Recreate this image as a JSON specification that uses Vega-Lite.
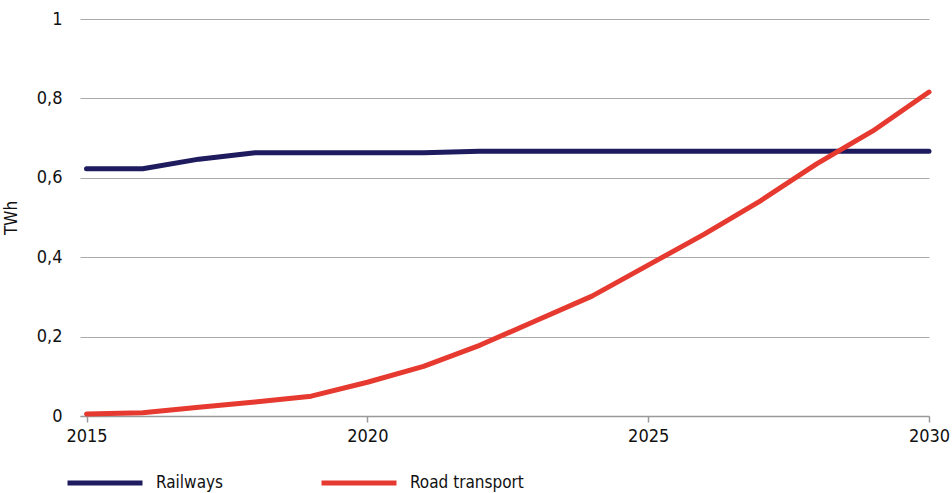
{
  "$schema": "https://vega.github.io/schema/vega-lite/v6.json",
  "width": 849,
  "height": 397,
  "autosize": "none",
  "padding": {"left": 80, "top": 19, "right": 23, "bottom": 77},
  "background": "white",
  "config": {
    "view": {"stroke": null},
    "font": "DejaVu Sans Condensed",
    "axis": {"labelFont": "DejaVu Sans Condensed", "titleFont": "DejaVu Sans Condensed", "labelColor": "#111", "titleColor": "#111"},
    "legend": {"labelFont": "DejaVu Sans Condensed"}
  },
  "data": {
    "values": [
      {"year": 2015, "series": "Railways", "v": 0.623},
      {"year": 2016, "series": "Railways", "v": 0.623},
      {"year": 2017, "series": "Railways", "v": 0.647},
      {"year": 2018, "series": "Railways", "v": 0.663},
      {"year": 2019, "series": "Railways", "v": 0.663},
      {"year": 2020, "series": "Railways", "v": 0.663},
      {"year": 2021, "series": "Railways", "v": 0.663},
      {"year": 2022, "series": "Railways", "v": 0.667},
      {"year": 2023, "series": "Railways", "v": 0.667},
      {"year": 2024, "series": "Railways", "v": 0.667},
      {"year": 2025, "series": "Railways", "v": 0.667},
      {"year": 2026, "series": "Railways", "v": 0.667},
      {"year": 2027, "series": "Railways", "v": 0.667},
      {"year": 2028, "series": "Railways", "v": 0.667},
      {"year": 2029, "series": "Railways", "v": 0.667},
      {"year": 2030, "series": "Railways", "v": 0.667},
      {"year": 2015, "series": "Road transport", "v": 0.005},
      {"year": 2016, "series": "Road transport", "v": 0.008},
      {"year": 2017, "series": "Road transport", "v": 0.022},
      {"year": 2018, "series": "Road transport", "v": 0.035},
      {"year": 2019, "series": "Road transport", "v": 0.05},
      {"year": 2020, "series": "Road transport", "v": 0.085},
      {"year": 2021, "series": "Road transport", "v": 0.125},
      {"year": 2022, "series": "Road transport", "v": 0.178},
      {"year": 2023, "series": "Road transport", "v": 0.24},
      {"year": 2024, "series": "Road transport", "v": 0.302},
      {"year": 2025, "series": "Road transport", "v": 0.38},
      {"year": 2026, "series": "Road transport", "v": 0.458},
      {"year": 2027, "series": "Road transport", "v": 0.542},
      {"year": 2028, "series": "Road transport", "v": 0.635},
      {"year": 2029, "series": "Road transport", "v": 0.718},
      {"year": 2030, "series": "Road transport", "v": 0.816}
    ]
  },
  "mark": {"type": "line", "strokeWidth": 5, "strokeCap": "round", "strokeJoin": "round"},
  "encoding": {
    "x": {
      "field": "year", "type": "quantitative",
      "scale": {"domain": [2014.884, 2030], "nice": false, "zero": false},
      "axis": {
        "values": [2015, 2020, 2025, 2030], "format": "d", "title": null,
        "grid": false, "domainColor": "#999", "domainWidth": 1.5,
        "tickColor": "#999", "tickSize": 6, "tickWidth": 1.5,
        "labelFontSize": 18, "labelPadding": 5, "labelFlush": false
      }
    },
    "y": {
      "field": "v", "type": "quantitative",
      "scale": {"domain": [0, 1], "nice": false},
      "axis": {
        "values": [0, 0.2, 0.4, 0.6, 0.8, 1],
        "labelExpr": "replace(format(datum.value, '~g'), '.', ',')",
        "title": "TWh", "titleFontSize": 17, "titleFontWeight": "normal", "titlePadding": 16,
        "domain": false, "ticks": false, "grid": true, "gridColor": "#aaa", "gridWidth": 1,
        "labelFontSize": 18, "labelPadding": 18
      }
    },
    "color": {
      "field": "series", "type": "nominal",
      "scale": {"domain": ["Railways", "Road transport"], "range": ["#1e1b5e", "#e63a30"]},
      "legend": {
        "title": null, "orient": "none", "direction": "horizontal",
        "legendX": -15, "legendY": 424,
        "symbolType": "stroke", "symbolSize": 5625, "symbolStrokeWidth": 5,
        "labelFontSize": 17, "labelColor": "#111", "labelOffset": 11,
        "columnPadding": 87, "labelLimit": 300
      }
    }
  }
}
